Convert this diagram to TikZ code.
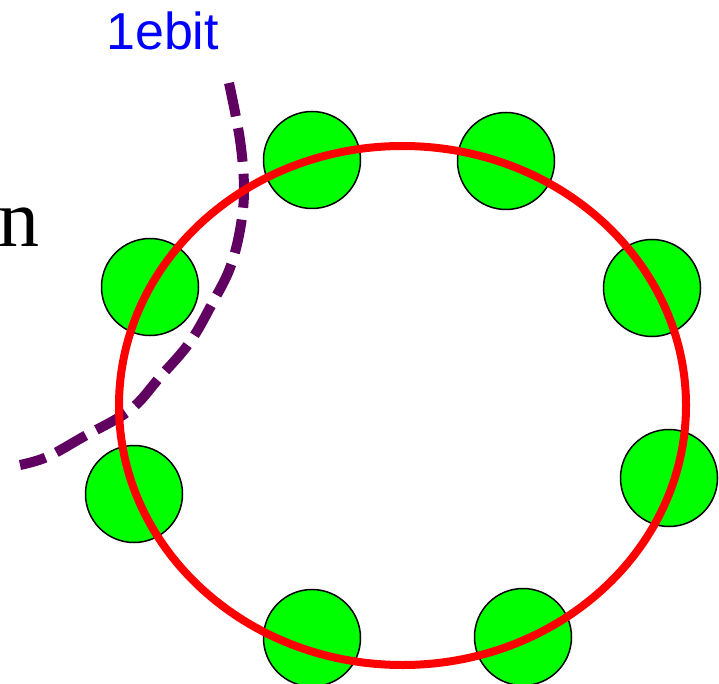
\documentclass[tikz,border=0pt]{standalone}
\usepackage{fontspec}
\setmainfont{Liberation Serif}
\newfontfamily\labelsans{Liberation Sans}
\definecolor{qgreen}{RGB}{0,255,0}
\definecolor{cutpurple}{RGB}{96,0,96}
\definecolor{ebitblue}{RGB}{0,0,255}
\begin{document}
\begin{tikzpicture}[
  x=1pt,y=-1pt,
  qubit/.style={circle,draw=black,line width=1.5pt,fill=qgreen,
    minimum size=97pt,inner sep=0pt},
  ring/.style={draw=red,line width=8pt},
  cut/.style={draw=cutpurple,line width=10pt,dash pattern=on 34pt off 12pt},
  tag/.style={inner sep=0pt}
]
  \useasboundingbox (0,0) rectangle (719,684);

  \node[qubit] (q1) at (312,160) {};
  \node[qubit] (q2) at (506,161) {};
  \node[qubit] (q3) at (652,288) {};
  \node[qubit] (q4) at (669,478) {};
  \node[qubit] (q5) at (523,637) {};
  \node[qubit] (q6) at (312,638) {};
  \node[qubit] (q7) at (134,494) {};
  \node[qubit] (q8) at (150,287) {};

  \draw[cut] plot[smooth,tension=0.6] coordinates {
    (229,83) (240,140) (244,190) (240,230) (230,268) (213,302)
    (190,342) (160,377) (130,410) (83,437) (47,457) (20,465)};

  \draw[ring] (402.5,405.5) ellipse[x radius=283.5,y radius=259.5];

  \node[tag,anchor=base west,text=ebitblue,font=\labelsans\fontsize{52}{60}\selectfont]
    (ebit) at (106,50) {1ebit};
  \node[tag,anchor=base east,font=\fontsize{82}{90}\selectfont]
    (lbl) at (40,246.5) {n};
\end{tikzpicture}
\end{document}
